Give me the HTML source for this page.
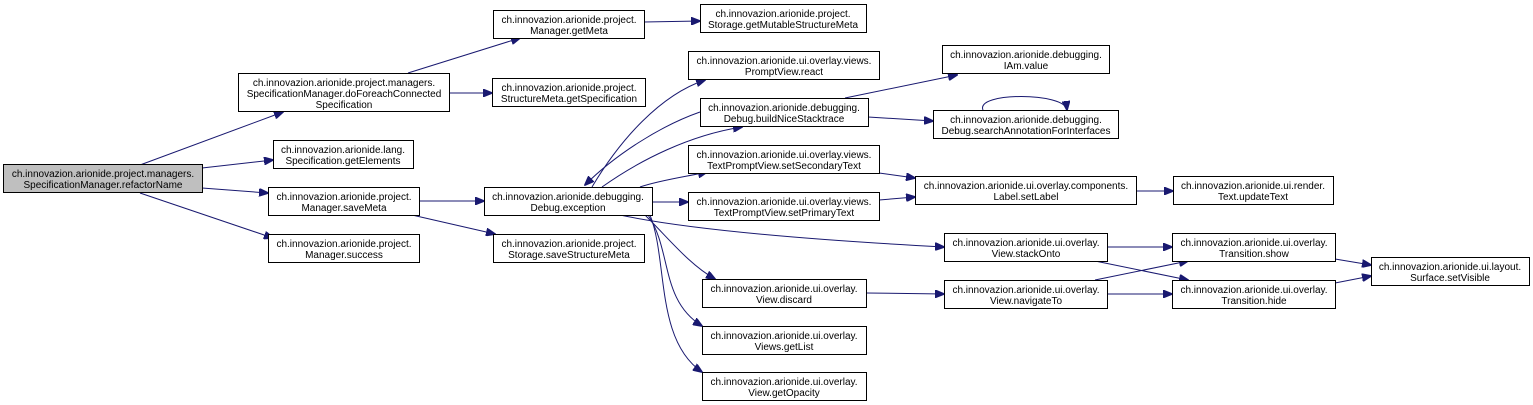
<!DOCTYPE html>
<html><head><meta charset="utf-8"><style>
html,body{margin:0;padding:0;background:#fff;}
svg{display:block;}
text{font-family:"Liberation Sans",sans-serif;font-size:10px;fill:#000;text-anchor:middle;}
rect{fill:#fff;stroke:#000;stroke-width:1;}
path{fill:none;stroke:#191970;stroke-width:1;}
</style></head><body>
<svg width="1533" height="405" viewBox="0 0 1533 405" xmlns="http://www.w3.org/2000/svg">
<defs><marker id="a" markerWidth="10" markerHeight="8" refX="9" refY="4" orient="auto" markerUnits="userSpaceOnUse"><path d="M0,0 L10,4 L0,8 Z" style="fill:#191970;stroke:#191970"/></marker></defs>
<g marker-end="url(#a)">
<path d="M140,165 L283,112"/>
<path d="M202,168 L273,160"/>
<path d="M202,188 L268,193"/>
<path d="M140,193 L273,238"/>
<path d="M408,73 L520,38"/>
<path d="M449,93 L492,93"/>
<path d="M644,22 L700,21"/>
<path d="M419,201 L484,201"/>
<path d="M412,215 L495,234"/>
<path d="M592,187 C620,140 660,95 705,80"/>
<path d="M700,112 C660,126 615,155 585,185"/>
<path d="M602,187 C640,160 690,135 742,127"/>
<path d="M640,187 C660,180 690,176 707,172"/>
<path d="M652,202 L688,202"/>
<path d="M620,215 C700,232 850,242 944,247"/>
<path d="M645,215 C670,240 690,265 715,279"/>
<path d="M648,215 C672,250 660,300 702,326"/>
<path d="M650,215 C668,260 655,340 702,372"/>
<path d="M845,98 L957,75"/>
<path d="M868,117 L933,121"/>
<path d="M983,110 C975,92 1065,92 1067,110"/>
<path d="M879,173 L915,178"/>
<path d="M879,200 L915,197"/>
<path d="M1136,191 L1173,191"/>
<path d="M1107,247 L1172,247"/>
<path d="M1095,261 L1188,280"/>
<path d="M1095,280 L1188,261"/>
<path d="M1107,294 L1172,294"/>
<path d="M866,293 L944,294"/>
<path d="M1335,259 L1371,265"/>
<path d="M1335,283 L1371,276"/>
</g>
<rect x="3.5" y="164.5" width="199" height="28" style="fill:#bfbfbf"/>
<rect x="238.5" y="73.5" width="211" height="38"/>
<rect x="493.5" y="10.5" width="151" height="28"/>
<rect x="492.5" y="78.5" width="153" height="28"/>
<rect x="273.5" y="140.5" width="140" height="28"/>
<rect x="268.5" y="187.5" width="151" height="28"/>
<rect x="268.5" y="234.5" width="151" height="28"/>
<rect x="484.5" y="187.5" width="168" height="28"/>
<rect x="493.5" y="234.5" width="151" height="28"/>
<rect x="700.5" y="4.5" width="166" height="28"/>
<rect x="688.5" y="51.5" width="191" height="28"/>
<rect x="700.5" y="98.5" width="168" height="28"/>
<rect x="942.5" y="45.5" width="167" height="28"/>
<rect x="933.5" y="110.5" width="185" height="28"/>
<rect x="688.5" y="145.5" width="191" height="28"/>
<rect x="915.5" y="176.5" width="221" height="28"/>
<rect x="688.5" y="192.5" width="191" height="28"/>
<rect x="1173.5" y="176.5" width="160" height="28"/>
<rect x="944.5" y="233.5" width="163" height="28"/>
<rect x="1172.5" y="233.5" width="163" height="28"/>
<rect x="1371.5" y="257.5" width="158" height="28"/>
<rect x="944.5" y="280.5" width="163" height="28"/>
<rect x="1172.5" y="280.5" width="163" height="28"/>
<rect x="702.5" y="279.5" width="164" height="28"/>
<rect x="702.5" y="326.5" width="164" height="28"/>
<rect x="702.5" y="372.5" width="164" height="28"/>
<g transform="translate(0,1)">
<text x="103" y="176">ch.innovazion.arionide.project.managers.</text><text x="103" y="187">SpecificationManager.refactorName</text>
<text x="344" y="85">ch.innovazion.arionide.project.managers.</text><text x="344" y="96">SpecificationManager.doForeachConnected</text><text x="344" y="107">Specification</text>
<text x="569" y="22">ch.innovazion.arionide.project.</text><text x="569" y="33">Manager.getMeta</text>
<text x="569" y="90">ch.innovazion.arionide.project.</text><text x="569" y="101">StructureMeta.getSpecification</text>
<text x="343" y="152">ch.innovazion.arionide.lang.</text><text x="343" y="163">Specification.getElements</text>
<text x="344" y="199">ch.innovazion.arionide.project.</text><text x="344" y="210">Manager.saveMeta</text>
<text x="344" y="246">ch.innovazion.arionide.project.</text><text x="344" y="257">Manager.success</text>
<text x="568" y="199">ch.innovazion.arionide.debugging.</text><text x="568" y="210">Debug.exception</text>
<text x="569" y="246">ch.innovazion.arionide.project.</text><text x="569" y="257">Storage.saveStructureMeta</text>
<text x="783" y="16">ch.innovazion.arionide.project.</text><text x="783" y="27">Storage.getMutableStructureMeta</text>
<text x="784" y="63">ch.innovazion.arionide.ui.overlay.views.</text><text x="784" y="74">PromptView.react</text>
<text x="784" y="110">ch.innovazion.arionide.debugging.</text><text x="784" y="121">Debug.buildNiceStacktrace</text>
<text x="1026" y="57">ch.innovazion.arionide.debugging.</text><text x="1026" y="68">IAm.value</text>
<text x="1026" y="122">ch.innovazion.arionide.debugging.</text><text x="1026" y="133">Debug.searchAnnotationForInterfaces</text>
<text x="784" y="157">ch.innovazion.arionide.ui.overlay.views.</text><text x="784" y="168">TextPromptView.setSecondaryText</text>
<text x="1026" y="188">ch.innovazion.arionide.ui.overlay.components.</text><text x="1026" y="199">Label.setLabel</text>
<text x="784" y="204">ch.innovazion.arionide.ui.overlay.views.</text><text x="784" y="215">TextPromptView.setPrimaryText</text>
<text x="1253" y="188">ch.innovazion.arionide.ui.render.</text><text x="1253" y="199">Text.updateText</text>
<text x="1026" y="245">ch.innovazion.arionide.ui.overlay.</text><text x="1026" y="256">View.stackOnto</text>
<text x="1254" y="245">ch.innovazion.arionide.ui.overlay.</text><text x="1254" y="256">Transition.show</text>
<text x="1450" y="269">ch.innovazion.arionide.ui.layout.</text><text x="1450" y="280">Surface.setVisible</text>
<text x="1026" y="292">ch.innovazion.arionide.ui.overlay.</text><text x="1026" y="303">View.navigateTo</text>
<text x="1254" y="292">ch.innovazion.arionide.ui.overlay.</text><text x="1254" y="303">Transition.hide</text>
<text x="784" y="291">ch.innovazion.arionide.ui.overlay.</text><text x="784" y="302">View.discard</text>
<text x="784" y="338">ch.innovazion.arionide.ui.overlay.</text><text x="784" y="349">Views.getList</text>
<text x="784" y="384">ch.innovazion.arionide.ui.overlay.</text><text x="784" y="395">View.getOpacity</text>
</g>
</svg>
</body></html>
